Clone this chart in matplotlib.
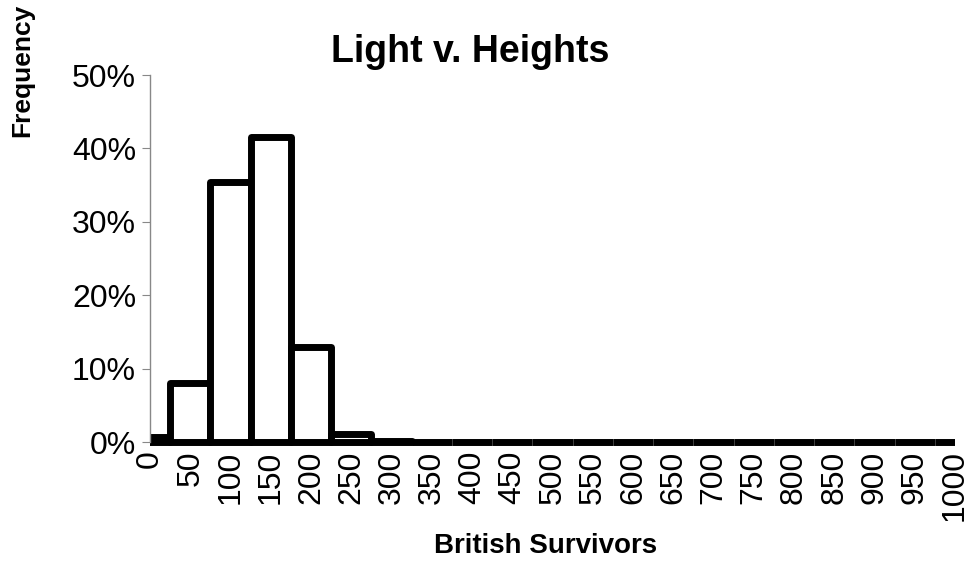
import numpy as np
import matplotlib.pyplot as plt
from matplotlib.ticker import PercentFormatter
from matplotlib.transforms import Bbox, TransformedBbox

plt.rcParams['font.family'] = ['Liberation Sans', 'DejaVu Sans']

# histogram bins (British survivors) and share of runs in each bin (%)
bins = [0, 50, 100, 150, 200, 250, 300, 350, 400, 450, 500,
        550, 600, 650, 700, 750, 800, 850, 900, 950, 1000]
freq = [0.7, 8.0, 35.4, 41.6, 13.0, 1.1, 0.15, 0.05, 0.03, 0.02, 0,
        0, 0, 0, 0, 0, 0, 0, 0, 0, 0]
yticks = [0, 10, 20, 30, 40, 50]

fig = plt.figure(figsize=(9.69, 5.62), dpi=100)
ax = fig.add_axes([150 / 969, 120 / 562, 805 / 969, 367 / 562])

pos = np.arange(len(bins))
bars = ax.bar(pos, freq, width=1.0, color='white', edgecolor='black',
              linewidth=5, joinstyle='round')
# clip only left/right so the thick baseline is not cut in half
clip = TransformedBbox(Bbox([[0, -0.1], [1, 1.1]]), ax.transAxes)
for b in bars:
    b.set_clip_box(clip)

ax.set_xlim(0, len(bins) - 1)
ax.set_ylim(0, 50)
ax.set_xticks(pos)
ax.set_xticklabels([str(b) for b in bins], rotation=90, fontsize=23)
ax.set_yticks(yticks)
ax.yaxis.set_major_formatter(PercentFormatter(decimals=0))
ax.tick_params(axis='y', labelsize=23, length=6, color='#888888', pad=4)
ax.tick_params(axis='x', length=0, pad=6)

for s in ['top', 'right', 'bottom']:
    ax.spines[s].set_visible(False)
ax.spines['left'].set_color('#888888')
ax.spines['left'].set_linewidth(1)

fig.text(470 / 969, 1 - 52 / 562, 'Light v. Heights', ha='center', va='center',
         fontsize=27, fontweight='bold')
fig.text(22 / 969, 1 - 70 / 562, 'Frequency', rotation=90, ha='center',
         va='center', fontsize=19, fontweight='bold')
fig.text(546 / 969, 1 - 533 / 562, 'British Survivors', ha='center', va='top',
         fontsize=20, fontweight='bold')

fig.savefig('out.png', dpi=100)
